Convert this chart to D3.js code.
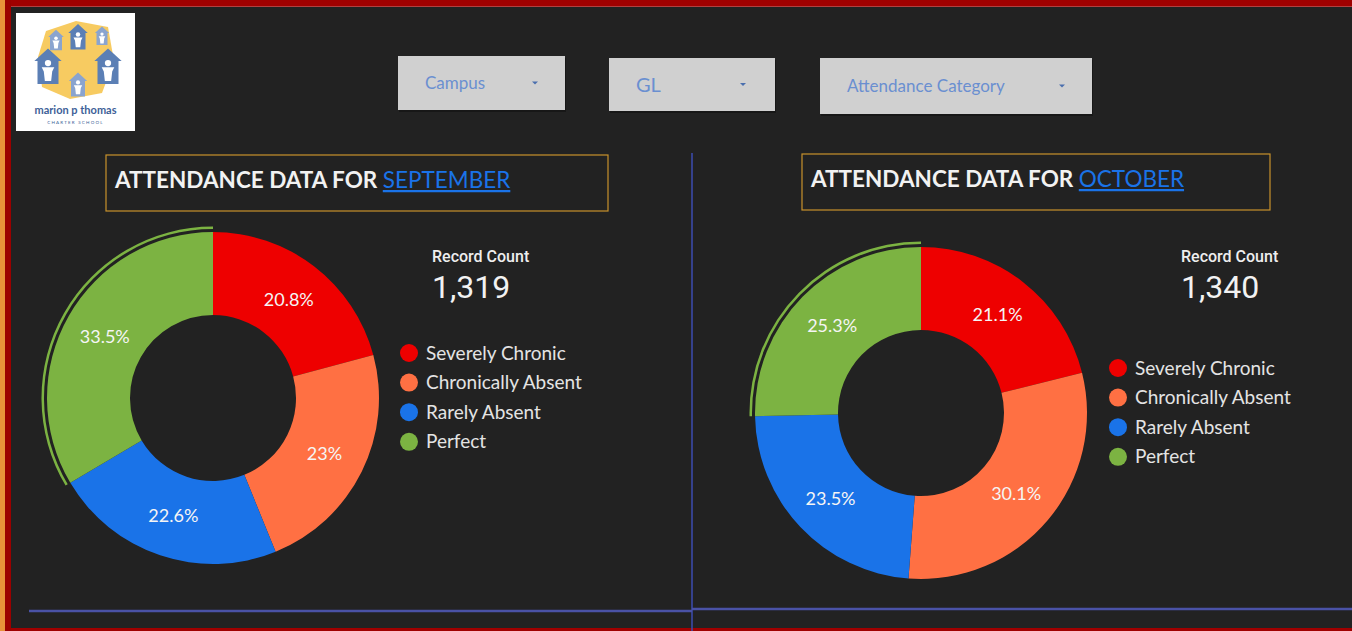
<!DOCTYPE html>
<html>
<head>
<meta charset="utf-8">
<script src="https://cdn.jsdelivr.net/npm/d3@7"></script>
<style>
  html, body { margin: 0; padding: 0; background: #222; overflow: hidden; }
  svg { display: block; }
</style>
</head>
<body>
<svg id="dash" width="1352" height="631"></svg>
<script>
// data
var categories = ["Severely Chronic", "Chronically Absent", "Rarely Absent", "Perfect"];
var catColors = ["#ee0000", "#ff7043", "#1a73e8", "#7cb342"];
var months = ["SEPTEMBER", "OCTOBER"];
var septPct = [20.8, 23, 22.6, 33.5];
var octPct = [21.1, 30.1, 23.5, 25.3];
var recordCounts = [1319, 1340];
var filters = ["Campus", "GL", "Attendance Category"];

var W = 1352, H = 631;
var svg = d3.select("#dash");

var color = d3.scaleOrdinal().domain(categories).range(catColors);
var fmtPct = d3.format(".1~f");
var fmtComma = d3.format(",");

// background + frame
svg.append("rect").attr("width", W).attr("height", H).attr("fill", "#222222");
svg.append("rect").attr("x", 0).attr("y", 0).attr("width", W).attr("height", 6).attr("fill", "#a00000");
svg.append("rect").attr("x", 0).attr("y", 6).attr("width", W).attr("height", 1).attr("fill", "#b04040");
svg.append("rect").attr("x", 0).attr("y", 628).attr("width", W).attr("height", 3).attr("fill", "#a00000");
svg.append("rect").attr("x", 0).attr("y", 0).attr("width", 5).attr("height", H).attr("fill", "#e8913a");
svg.append("rect").attr("x", 5).attr("y", 0).attr("width", 6).attr("height", H).attr("fill", "#9b0000");

// logo (simplified)
var logo = svg.append("g").attr("transform", "translate(16,13)");
logo.append("rect").attr("width", 119).attr("height", 118).attr("fill", "#ffffff");
logo.append("path")
  .attr("d", "M30,18 L60,8 L92,14 L98,48 L86,80 L54,86 L26,74 L22,44 Z")
  .attr("fill", "#f6c245").attr("opacity", 0.85);
function house(g, x, y, s, fill) {
  var h = g.append("g").attr("transform", "translate(" + x + "," + y + ") scale(" + s + ")");
  h.append("path").attr("d", "M-13,0 L0,-12 L13,0 L10,0 L10,22 L-10,22 L-10,0 Z").attr("fill", fill);
  h.append("circle").attr("cx", 0).attr("cy", 2).attr("r", 3).attr("fill", "#fff");
  h.append("path").attr("d", "M-6,6 L6,6 L4,10 L3,19 L-3,19 L-4,10 Z").attr("fill", "#fff");
}
house(logo, 40, 24, 0.6, "#8aa4cf");
house(logo, 62, 20, 0.75, "#5b7fb5");
house(logo, 86, 20, 0.55, "#8aa4cf");
house(logo, 32, 48, 1.05, "#5b7fb5");
house(logo, 92, 48, 1.05, "#5b7fb5");
house(logo, 62, 68, 0.7, "#8aa4cf");
logo.append("text").attr("x", 59.5).attr("y", 101).attr("text-anchor", "middle")
  .attr("font-family", "Lato, sans-serif").attr("font-weight", "bold").attr("font-size", 11)
  .attr("fill", "#3e5f98").text("marion p thomas");
logo.append("text").attr("x", 59.5).attr("y", 111).attr("text-anchor", "middle")
  .attr("font-family", "Lato, sans-serif").attr("font-size", 4.5).attr("letter-spacing", 1.2)
  .attr("fill", "#3e5f98").text("CHARTER SCHOOL");

// filter dropdowns
var dropBoxes = [
  {x: 398, y: 56, w: 167, h: 54, fs: 17, arrow: 535},
  {x: 609, y: 58, w: 166, h: 53, fs: 20, arrow: 743},
  {x: 820, y: 58, w: 272, h: 56, fs: 17, arrow: 1062}
];
var drops = svg.selectAll(".drop").data(filters).enter().append("g").attr("class", "drop");
drops.append("rect")
  .attr("x", (d, i) => dropBoxes[i].x + 1).attr("y", (d, i) => dropBoxes[i].y + 2)
  .attr("width", (d, i) => dropBoxes[i].w).attr("height", (d, i) => dropBoxes[i].h)
  .attr("fill", "#111").attr("opacity", 0.6);
drops.append("rect")
  .attr("x", (d, i) => dropBoxes[i].x).attr("y", (d, i) => dropBoxes[i].y)
  .attr("width", (d, i) => dropBoxes[i].w).attr("height", (d, i) => dropBoxes[i].h)
  .attr("fill", "#d0d0d0");
drops.append("text")
  .attr("x", (d, i) => dropBoxes[i].x + 27)
  .attr("y", (d, i) => dropBoxes[i].y + dropBoxes[i].h / 2 + dropBoxes[i].fs * 0.35)
  .attr("font-family", "Lato, sans-serif").attr("font-size", (d, i) => dropBoxes[i].fs)
  .attr("fill", "#6a8fd0").text(d => d);
drops.append("path")
  .attr("d", (d, i) => {
    var cx = dropBoxes[i].arrow, cy = dropBoxes[i].y + dropBoxes[i].h / 2;
    return "M" + (cx - 3) + "," + (cy - 1.5) + " L" + (cx + 3) + "," + (cy - 1.5) + " L" + cx + "," + (cy + 1.5) + " Z";
  })
  .attr("fill", "#4a6fae");

// dividers
svg.append("line").attr("x1", 692).attr("x2", 692).attr("y1", 153).attr("y2", H)
  .attr("stroke", "#3d4db0").attr("stroke-width", 1.5);
svg.append("line").attr("x1", 29).attr("x2", 692).attr("y1", 611).attr("y2", 611)
  .attr("stroke", "#4a52a6").attr("stroke-width", 2.5);
svg.append("line").attr("x1", 692).attr("x2", W).attr("y1", 609).attr("y2", 609)
  .attr("stroke", "#4a52a6").attr("stroke-width", 2.5);

// panels
var panels = [
  {month: months[0], pct: septPct, count: recordCounts[0],
   box: {x: 106, y: 155, w: 502, h: 56}, cx: 213, cy: 398,
   countX: 432, countY: 262, legX: 409, legY: 353},
  {month: months[1], pct: octPct, count: recordCounts[1],
   box: {x: 802, y: 154, w: 468, h: 56}, cx: 921, cy: 413,
   countX: 1181, countY: 262, legX: 1118, legY: 368}
];

var R = 166, r0 = 83;
var pie = d3.pie().sort(null).value(d => d.value);
var arc = d3.arc().innerRadius(r0).outerRadius(R);
var hiArc = d3.arc().innerRadius(R + 3).outerRadius(R + 5.5);

panels.forEach(function(p) {
  var g = svg.append("g");

  // title box
  g.append("rect").attr("x", p.box.x).attr("y", p.box.y)
    .attr("width", p.box.w).attr("height", p.box.h)
    .attr("fill", "none").attr("stroke", "#c8922c").attr("stroke-width", 1.2);
  var title = g.append("text").attr("x", p.box.x + 9).attr("y", p.box.y + 33)
    .attr("font-family", "Lato, sans-serif").attr("font-weight", "bold").attr("font-size", 22.5)
    .attr("fill", "#f2f2f2");
  title.append("tspan").text("ATTENDANCE DATA FOR ");
  title.append("tspan").attr("fill", "#1a73e8").attr("font-weight", "normal")
    .attr("text-decoration", "underline").text(p.month);

  // donut
  var data = categories.map((c, i) => ({cat: c, value: p.pct[i]}));
  var arcs = pie(data);
  var donut = g.append("g").attr("transform", "translate(" + p.cx + "," + p.cy + ")");
  donut.selectAll("path.slice").data(arcs).enter().append("path")
    .attr("class", "slice")
    .attr("d", arc)
    .attr("fill", d => color(d.data.cat));
  // highlighted (selected) slice ring on "Perfect"
  var last = arcs[arcs.length - 1];
  donut.append("path").attr("d", hiArc(last)).attr("fill", color(last.data.cat));
  donut.selectAll("text.lbl").data(arcs).enter().append("text")
    .attr("class", "lbl")
    .attr("transform", d => "translate(" + arc.centroid(d) + ")")
    .attr("dy", "0.35em").attr("text-anchor", "middle")
    .attr("font-family", "Lato, sans-serif").attr("font-size", 18)
    .attr("fill", "#f5f5f5")
    .text(d => fmtPct(d.data.value) + "%");

  // scorecard
  g.append("text").attr("x", p.countX).attr("y", p.countY)
    .attr("font-family", "Roboto, sans-serif").attr("font-weight", "500").attr("font-size", 16)
    .attr("fill", "#eeeeee").text("Record Count");
  g.append("text").attr("x", p.countX).attr("y", p.countY + 36)
    .attr("font-family", "Roboto, sans-serif").attr("font-size", 32)
    .attr("fill", "#f2f2f2").text(fmtComma(p.count));

  // legend
  var leg = g.selectAll(".leg").data(categories).enter().append("g")
    .attr("transform", (d, i) => "translate(" + p.legX + "," + (p.legY + i * 29.6) + ")");
  leg.append("circle").attr("r", 9).attr("fill", d => color(d));
  leg.append("text").attr("x", 17).attr("dy", "0.35em")
    .attr("font-family", "Lato, sans-serif").attr("font-size", 19)
    .attr("fill", "#e4e4e4").text(d => d);
});
</script>
</body>
</html>
